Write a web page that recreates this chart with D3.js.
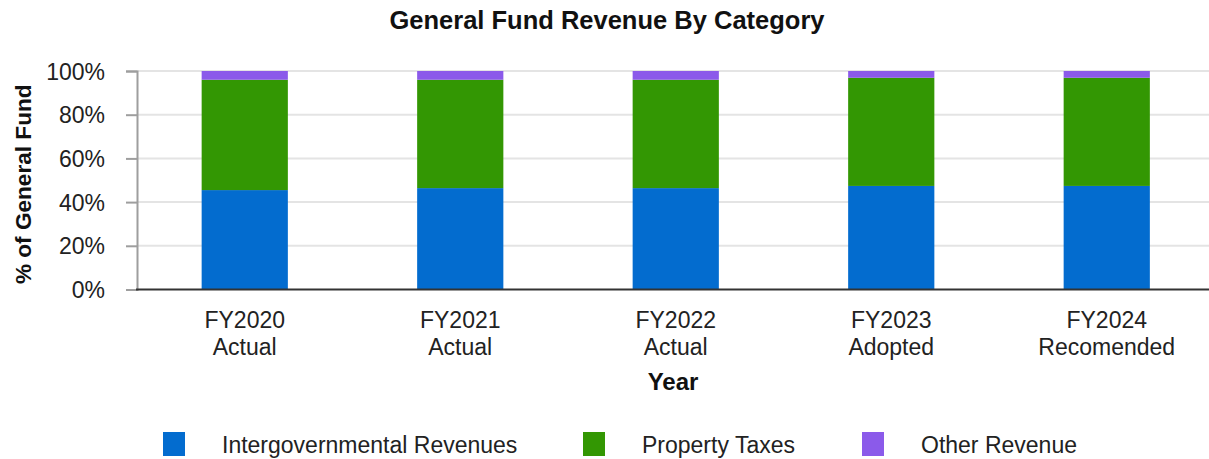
<!DOCTYPE html>
<html>
<head>
<meta charset="utf-8">
<script src="https://cdn.jsdelivr.net/npm/d3@7/dist/d3.min.js"></script>
<style>
  html, body { margin: 0; padding: 0; background: #fff; }
  svg { display: block; font-family: "Liberation Sans", Arial, sans-serif; }
</style>
</head>
<body>
<svg id="chart" width="1209" height="459"></svg>
<script>
// Fiscal years (two-line labels) and percent share of the General Fund per category
const years = ["FY2020|Actual", "FY2021|Actual", "FY2022|Actual", "FY2023|Adopted", "FY2024|Recomended"];
const intergovernmental = [45.5, 46.4, 46.4, 47.4, 47.4];
const propertyTaxes     = [50.5, 49.6, 49.6, 49.5, 49.5];
const otherRevenue      = [4.0, 4.0, 4.0, 3.1, 3.1];
const seriesNames  = ["Intergovernmental Revenues", "Property Taxes", "Other Revenue"];
const seriesColors = ["#036ccf", "#339703", "#8b5aea"];
const yTicks = [0, 20, 40, 60, 80, 100];

(function draw() {
  const svg = d3.select("#chart");
  const plotLeft = 137, plotTop = 71, plotBottom = 289.5;
  const labelSize = 23;
  const x = d3.scaleBand().domain(years).range([plotLeft, 1214.5]).paddingInner(0.6).paddingOuter(0.3);
  const y = d3.scaleLinear().domain([0, 100]).range([plotBottom, plotTop]);

  // Horizontal gridlines
  svg.append("g").selectAll("line").data(yTicks.filter(t => t > 0)).join("line")
    .attr("x1", plotLeft).attr("x2", 1209)
    .attr("y1", d => y(d)).attr("y2", d => y(d))
    .attr("stroke", "#e4e4e4").attr("stroke-width", 2);

  // Stacked bars
  const rows = years.map((k, i) => ({ key: k, a: intergovernmental[i], b: propertyTaxes[i], c: otherRevenue[i] }));
  const stack = d3.stack().keys(["a", "b", "c"])(rows);
  svg.append("g").selectAll("g").data(stack).join("g")
    .attr("fill", (d, i) => seriesColors[i])
    .selectAll("rect").data(d => d).join("rect")
    .attr("x", d => x(d.data.key))
    .attr("width", x.bandwidth())
    .attr("y", d => y(d[1]))
    .attr("height", d => y(d[0]) - y(d[1]));

  // Y axis
  const yAxis = svg.append("g").attr("transform", `translate(${plotLeft},0)`)
    .call(d3.axisLeft(y).tickValues(yTicks).tickFormat(d => d + "%").tickSize(11).tickPadding(21));
  yAxis.select(".domain").attr("stroke", "#9e9e9e").attr("stroke-width", 2);
  yAxis.selectAll(".tick line").attr("stroke", "#9e9e9e").attr("stroke-width", 2);
  yAxis.selectAll(".tick text").attr("font-size", labelSize).attr("fill", "#222")
    .attr("font-family", "Liberation Sans, Arial, sans-serif").attr("dy", "0.35em");

  // Baseline
  svg.append("line").attr("x1", plotLeft - 1).attr("x2", 1209)
    .attr("y1", y(0)).attr("y2", y(0)).attr("stroke", "#333").attr("stroke-width", 2);

  // X axis labels (two lines)
  const xAxis = svg.append("g").attr("transform", `translate(0,${plotBottom})`)
    .call(d3.axisBottom(x).tickSize(0).tickFormat(""));
  xAxis.select(".domain").remove();
  xAxis.selectAll(".tick").each(function(d) {
    const parts = d.split("|");
    const t = d3.select(this).append("text")
      .attr("text-anchor", "middle").attr("font-size", labelSize).attr("fill", "#222")
      .attr("font-family", "Liberation Sans, Arial, sans-serif");
    parts.forEach((p, i) => t.append("tspan").attr("x", 0).attr("y", 38 + i * 27).text(p));
  });

  // Titles
  svg.append("text").attr("x", 607).attr("y", 29).attr("text-anchor", "middle")
    .attr("font-size", 25.5).attr("font-weight", "bold").attr("fill", "#111")
    .text("General Fund Revenue By Category");
  svg.append("text").attr("x", 673).attr("y", 390).attr("text-anchor", "middle")
    .attr("font-size", 24).attr("font-weight", "bold").attr("fill", "#111").text("Year");
  svg.append("text").attr("transform", `translate(31,${(plotTop + plotBottom) / 2 + 4}) rotate(-90)`)
    .attr("text-anchor", "middle").attr("font-size", 22.6).attr("font-weight", "bold").attr("fill", "#111")
    .text("% of General Fund");

  // Legend
  const legendX = [163, 583, 862];
  const legend = svg.append("g").selectAll("g").data(seriesNames).join("g")
    .attr("transform", (d, i) => `translate(${legendX[i]},432)`);
  legend.append("rect").attr("width", 22).attr("height", 24).attr("fill", (d, i) => seriesColors[i]);
  legend.append("text").attr("x", 59).attr("y", 21).attr("font-size", labelSize).attr("fill", "#222").text(d => d);
})();
</script>
</body>
</html>
